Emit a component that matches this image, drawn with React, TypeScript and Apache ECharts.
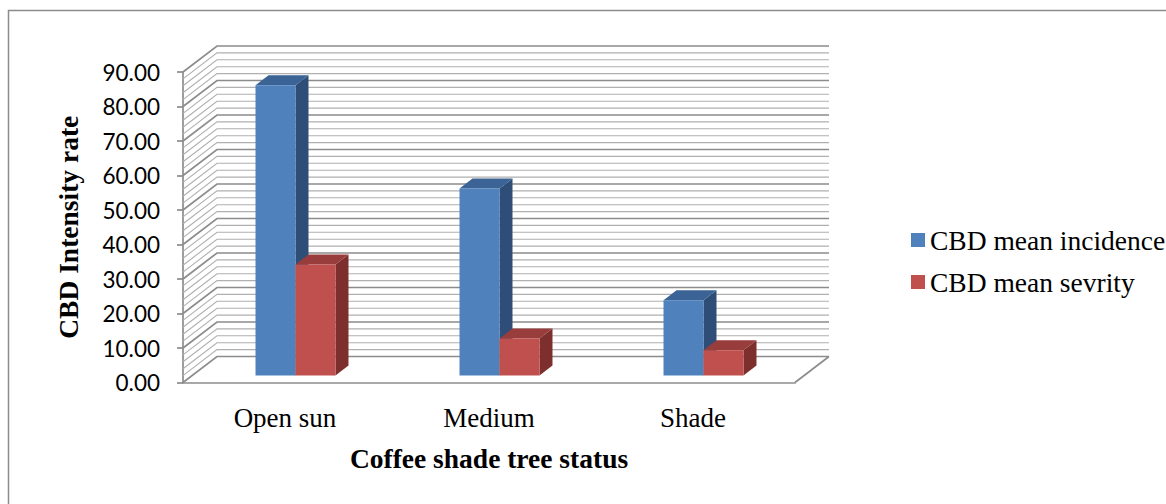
import { useEffect, useRef } from "react";
import * as echarts from "echarts";

// ---- data ----
const categories = ["Open sun", "Medium", "Shade"];
const seriesNames = ["CBD mean incidence", "CBD mean sevrity"];
const meanIncidence = [84.1, 54.2, 21.8];
const meanSeverity = [32.2, 10.7, 7.3];
const yAxisRange = { min: 0, max: 90, major: 10, minor: 2 };

// ---- look ----
const SERIF = "'Liberation Serif', 'Times New Roman', serif";
const SANS = "Lato, 'Open Sans', sans-serif";
const GRID_MAJOR = "#8c8c8c";
const GRID_MINOR = "#b0b0b0";
const BAR_COLORS = [
  { front: "#4f81bd", top: "#3b6396", side: "#2e4e78" },
  { front: "#c0504d", top: "#983d3b", side: "#7c2f2d" },
];

// oblique 3D projection offsets (pixels)
const WALL_DX = 34; // full floor depth
const WALL_DY = -26;
const BAR_FRONT_DX = 10.5; // bar front plane inside the floor
const BAR_FRONT_DY = -7;
const BAR_DEPTH_DX = 13; // bar thickness
const BAR_DEPTH_DY = -10;
const BAR_WIDTH_RATIO = 0.196; // of one category band

function wallRenderer(params: any, api: any) {
  const cs = params.coordSys;
  const left = cs.x;
  const right = cs.x + cs.width;
  const minor: any[] = [];
  const major: any[] = [];
  for (let v = yAxisRange.min; v <= yAxisRange.max + 1e-9; v += yAxisRange.minor) {
    const y = api.coord([0, v])[1];
    const isMajor = Math.abs(v % yAxisRange.major) < 1e-6;
    const el = {
      type: "polyline",
      shape: {
        points: [
          [left, y],
          [left + WALL_DX, y + WALL_DY],
          [right + WALL_DX, y + WALL_DY],
        ],
      },
      style: {
        fill: "none",
        stroke: isMajor ? GRID_MAJOR : GRID_MINOR,
        lineWidth: isMajor ? 1.7 : 1.1,
      },
    };
    (isMajor ? major : minor).push(el);
  }
  const y0 = api.coord([0, 0])[1];
  major.push({
    type: "line",
    shape: { x1: right, y1: y0, x2: right + WALL_DX, y2: y0 + WALL_DY },
    style: { stroke: GRID_MAJOR, lineWidth: 1.7 },
  });
  return { type: "group", children: [...minor, ...major] };
}

function barRenderer(seriesIndex: number) {
  const c = BAR_COLORS[seriesIndex];
  return (params: any, api: any) => {
    const cat = api.value(0);
    const val = api.value(1);
    const [cx, y0] = api.coord([cat, 0]);
    const y1 = api.coord([cat, val])[1];
    const band = api.size([1, 0])[0];
    const w = band * BAR_WIDTH_RATIO;
    const xl = cx - w + seriesIndex * w + BAR_FRONT_DX;
    const xr = xl + w;
    const yb = y0 + BAR_FRONT_DY;
    const yt = y1 + BAR_FRONT_DY;
    return {
      type: "group",
      children: [
        {
          type: "polygon",
          shape: {
            points: [
              [xr, yt],
              [xr + BAR_DEPTH_DX, yt + BAR_DEPTH_DY],
              [xr + BAR_DEPTH_DX, yb + BAR_DEPTH_DY],
              [xr, yb],
            ],
          },
          style: { fill: c.side },
        },
        {
          type: "polygon",
          shape: {
            points: [
              [xl, yt],
              [xl + BAR_DEPTH_DX, yt + BAR_DEPTH_DY],
              [xr + BAR_DEPTH_DX, yt + BAR_DEPTH_DY],
              [xr, yt],
            ],
          },
          style: { fill: c.top },
        },
        {
          type: "rect",
          shape: { x: xl, y: yt, width: w, height: yb - yt },
          style: { fill: c.front },
        },
      ],
    };
  };
}

export default function App() {
  const ref = useRef<HTMLDivElement>(null);

  useEffect(() => {
    if (!ref.current) return;
    const chart = echarts.init(ref.current, null, { renderer: "svg" });
    chart.setOption({
      animation: false,
      backgroundColor: "#ffffff",
      grid: { left: 183, top: 72, width: 612, height: 310.5 },
      xAxis: {
        type: "category",
        data: categories,
        axisLine: { show: true, lineStyle: { color: GRID_MAJOR, width: 1.7 } },
        axisTick: { show: false },
        splitLine: { show: false },
        axisLabel: {
          fontFamily: SERIF,
          fontSize: 27,
          color: "#000",
          margin: 22,
        },
        name: "Coffee shade tree status",
        nameLocation: "middle",
        nameGap: 62,
        nameTextStyle: {
          fontFamily: SERIF,
          fontSize: 27.5,
          fontWeight: "bold",
          color: "#000",
        },
      },
      yAxis: {
        type: "value",
        min: yAxisRange.min,
        max: yAxisRange.max,
        interval: yAxisRange.major,
        axisLine: { show: true, lineStyle: { color: GRID_MAJOR, width: 1.7 } },
        axisTick: { show: true, length: 6, lineStyle: { color: GRID_MAJOR, width: 1.7 } },
        splitLine: { show: false },
        axisLabel: {
          fontFamily: SANS,
          fontSize: 22.5,
          color: "#000",
          margin: 23,
          formatter: (v: number) => v.toFixed(2),
        },
        name: "CBD Intensity rate",
        nameLocation: "middle",
        nameRotate: 90,
        nameGap: 101,
        nameTextStyle: {
          fontFamily: SERIF,
          fontSize: 27.5,
          fontWeight: "bold",
          color: "#000",
        },
      },
      legend: {
        orient: "vertical",
        left: 906,
        top: 221,
        itemWidth: 14,
        itemHeight: 14,
        itemGap: 14,
        icon: "rect",
        data: seriesNames.map((name, i) => ({
          name,
          itemStyle: { color: BAR_COLORS[i].front },
        })),
        textStyle: { fontFamily: SERIF, fontSize: 27.5, color: "#000" },
      },
      graphic: [
        {
          type: "rect",
          silent: true,
          shape: { x: 8.5, y: 10.5, width: 1300, height: 700 },
          style: { fill: "none", stroke: "#8c8c8c", lineWidth: 1.5 },
        },
      ],
      series: [
        {
          type: "custom",
          name: "walls",
          silent: true,
          renderItem: wallRenderer,
          data: [[0, 0]],
          z: 1,
        },
        {
          type: "custom",
          name: seriesNames[0],
          renderItem: barRenderer(0),
          itemStyle: { color: BAR_COLORS[0].front },
          encode: { x: 0, y: 1 },
          data: categories.map((_, i) => [i, meanIncidence[i]]),
          z: 2,
        },
        {
          type: "custom",
          name: seriesNames[1],
          renderItem: barRenderer(1),
          itemStyle: { color: BAR_COLORS[1].front },
          encode: { x: 0, y: 1 },
          data: categories.map((_, i) => [i, meanSeverity[i]]),
          z: 3,
        },
      ],
    });
    return () => chart.dispose();
  }, []);

  return (
    <div
      ref={ref}
      style={{ position: "fixed", left: 0, top: 0, width: 1166, height: 504 }}
    />
  );
}
